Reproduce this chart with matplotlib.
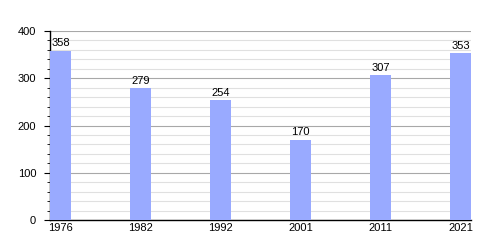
import matplotlib.pyplot as plt
from matplotlib.ticker import MultipleLocator

plt.rcParams['font.family'] = ['Liberation Sans', 'DejaVu Sans']

years = ['1976', '1982', '1992', '2001', '2011', '2021']
population = [358, 279, 254, 170, 307, 353]

fig = plt.figure(figsize=(5, 2.5), dpi=100)
ax = fig.add_axes([0.1, 0.12, 0.842, 0.756])

x = range(len(years))
bars = ax.bar(x, population, width=0.26, color='#99aaff', zorder=3)
for xi, v in zip(x, population):
    ax.text(xi, v + 5, str(v), ha='center', va='bottom', fontsize=8, zorder=4)

ax.set_xlim(-0.13, len(years) - 1 + 0.13)
ax.set_ylim(0, 400)
ax.set_xticks(list(x))
ax.set_xticklabels(years)
ax.yaxis.set_major_locator(MultipleLocator(100))
ax.yaxis.set_minor_locator(MultipleLocator(20))
ax.grid(axis='y', which='major', color='#a8a8a8', linewidth=0.8, zorder=1)
ax.grid(axis='y', which='minor', color='#e0e0e0', linewidth=0.8, zorder=1)

for side in ['top', 'right']:
    ax.spines[side].set_visible(False)
ax.spines['left'].set_linewidth(1)
ax.spines['bottom'].set_linewidth(1)
ax.tick_params(axis='x', length=0, labelsize=8, pad=2)
ax.tick_params(axis='y', which='major', length=4, labelsize=8, pad=6)
ax.tick_params(axis='y', which='minor', length=2)

fig.savefig('out.png', dpi=100)
